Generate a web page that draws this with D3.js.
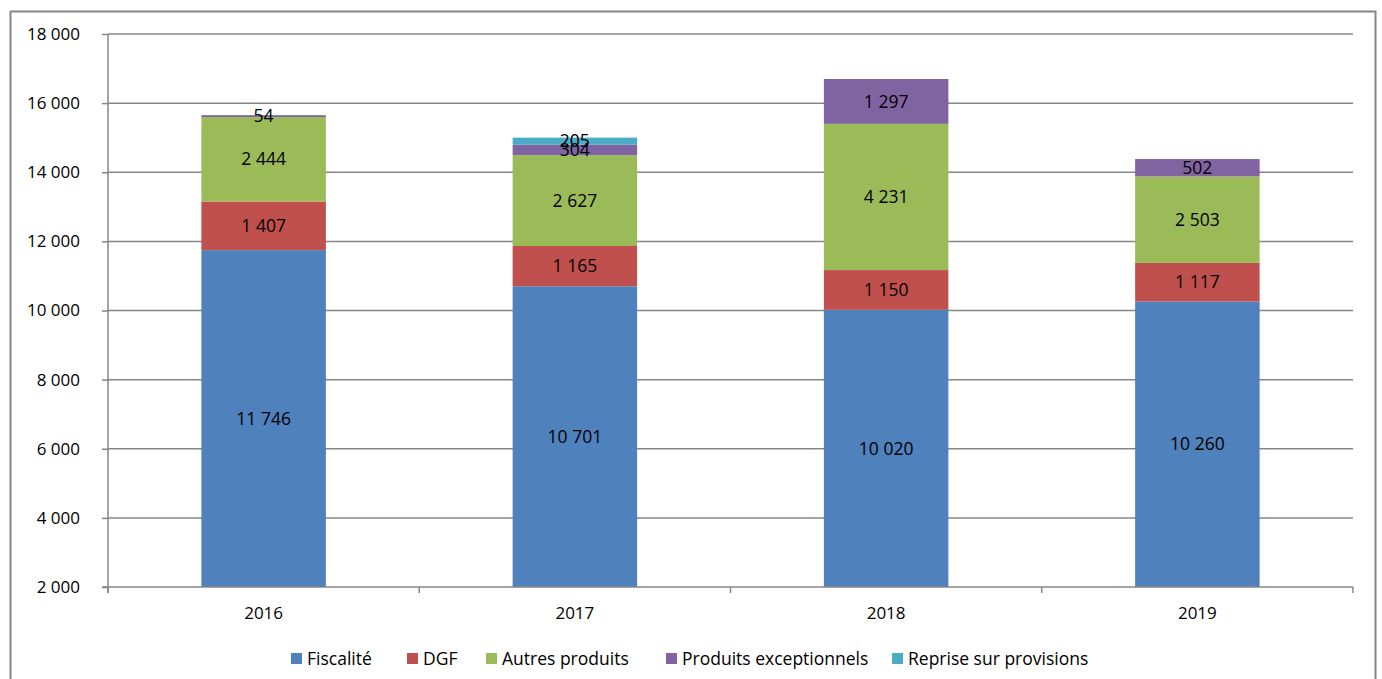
<!DOCTYPE html>
<html>
<head>
<meta charset="utf-8">
<script src="https://cdn.jsdelivr.net/npm/d3@7"></script>
<style>
  body { margin: 0; background: #fff; }
  svg text { font-family: "Open Sans", "Liberation Sans", sans-serif; fill: #000; }
</style>
</head>
<body>
<svg id="chart" width="1382" height="679"></svg>
<script>
"use strict";
const YEARS = ["2016", "2017", "2018", "2019"];
const SERIES = ["Fiscalité", "DGF", "Autres produits", "Produits exceptionnels", "Reprise sur provisions"];
const COLORS = ["#4F81BD", "#C0504D", "#9BBB59", "#8064A2", "#4BACC6"];
const FISCALITE = [11746, 10701, 10020, 10260];
const DGF = [1407, 1165, 1150, 1117];
const AUTRES = [2444, 2627, 4231, 2503];
const EXCEPTIONNELS = [54, 304, 1297, 502];
const REPRISE = [0, 205, 0, 0];
const Y_TICKS = [2000, 4000, 6000, 8000, 10000, 12000, 14000, 16000, 18000];

const svg = d3.select("#chart");
const margin = { top: 34, left: 108, right: 1353, bottom: 587 };

// outer frame
svg.append("rect")
  .attr("x", 10.5).attr("y", 11.5)
  .attr("width", 1365).attr("height", 700)
  .style("fill", "none").style("stroke", "#868686").style("stroke-width", 2);

const x = d3.scaleBand().domain(YEARS).range([margin.left, margin.right]).paddingInner(0.6).paddingOuter(0.3);
const xb = d3.scaleBand().domain(YEARS).range([margin.left, margin.right]);
const y = d3.scaleLinear().domain([2000, 18000]).range([margin.bottom, margin.top]).clamp(true);

const fmt = v => d3.format(",")(v).replace(/,/g, " ");

// grid lines
svg.append("g").selectAll("line")
  .data(Y_TICKS.slice(1))
  .enter().append("line")
  .attr("x1", margin.left).attr("x2", margin.right)
  .attr("y1", d => y(d)).attr("y2", d => y(d))
  .style("stroke", "#868686").style("stroke-width", 1.5);

// stacked data
const table = YEARS.map((yr, i) => ({
  year: yr,
  "Fiscalité": FISCALITE[i],
  "DGF": DGF[i],
  "Autres produits": AUTRES[i],
  "Produits exceptionnels": EXCEPTIONNELS[i],
  "Reprise sur provisions": REPRISE[i]
}));
const stacked = d3.stack().keys(SERIES)(table);

const layers = svg.append("g").selectAll("g")
  .data(stacked)
  .enter().append("g")
  .style("fill", (d, i) => COLORS[i]);

layers.selectAll("rect")
  .data(d => d)
  .enter().append("rect")
  .attr("x", d => x(d.data.year))
  .attr("width", x.bandwidth())
  .attr("y", d => y(d[1]))
  .attr("height", d => y(d[0]) - y(d[1]));

// value labels
const labels = svg.append("g");
stacked.forEach(layer => {
  layer.forEach(d => {
    const v = d[1] - d[0];
    if (!v) return;
    labels.append("text")
      .attr("x", x(d.data.year) + x.bandwidth() / 2)
      .attr("y", (y(d[0]) + y(d[1])) / 2)
      .attr("dy", "0.35em")
      .attr("text-anchor", "middle")
      .style("font-size", "17.5px")
      .text(fmt(v));
  });
});

// y axis
const yAxis = d3.axisLeft(y).tickValues(Y_TICKS).tickSize(6).tickPadding(22).tickFormat(fmt);
const gy = svg.append("g").attr("transform", `translate(${margin.left},0)`).call(yAxis);
gy.select(".domain").remove();
gy.selectAll("line").style("stroke", "#868686").style("stroke-width", 1.5);
gy.append("line").attr("x1", 0).attr("x2", 0).attr("y1", margin.top).attr("y2", margin.bottom + 6)
  .style("stroke", "#868686").style("stroke-width", 1.5);
gy.selectAll("text").style("font-size", "17px").style("fill", "#000");

// x axis
svg.append("line")
  .attr("x1", margin.left - 6).attr("x2", margin.right)
  .attr("y1", margin.bottom).attr("y2", margin.bottom)
  .style("stroke", "#868686").style("stroke-width", 1.5);
const bounds = YEARS.map(d => xb(d)).concat([margin.right]);
svg.append("g").selectAll("line")
  .data(bounds)
  .enter().append("line")
  .attr("x1", d => d).attr("x2", d => d)
  .attr("y1", margin.bottom).attr("y2", margin.bottom + 6)
  .style("stroke", "#868686").style("stroke-width", 1.5);
svg.append("g").selectAll("text")
  .data(YEARS)
  .enter().append("text")
  .attr("x", d => xb(d) + xb.bandwidth() / 2)
  .attr("y", 619)
  .attr("text-anchor", "middle")
  .style("font-size", "17px")
  .text(d => d);

// legend
const legendX = [291, 407, 486, 666, 892];
const legend = svg.append("g").selectAll("g")
  .data(SERIES)
  .enter().append("g")
  .attr("transform", (d, i) => `translate(${legendX[i]},658)`);
legend.append("rect")
  .attr("x", 0).attr("y", -5).attr("width", 11).attr("height", 11)
  .style("fill", (d, i) => COLORS[i]);
legend.append("text")
  .attr("x", 16).attr("dy", "0.38em")
  .style("font-size", "17.5px")
  .text(d => d);
</script>
</body>
</html>
